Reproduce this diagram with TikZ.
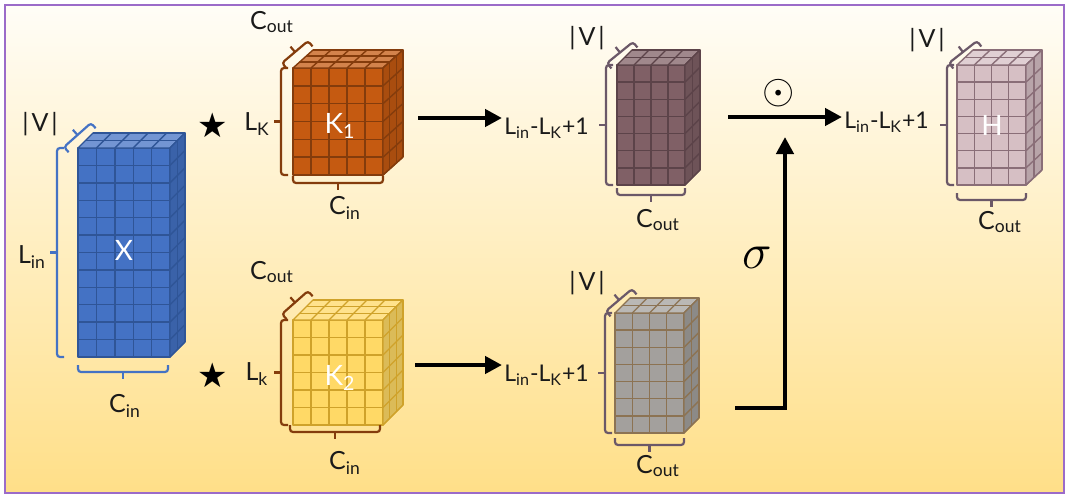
\documentclass[tikz,border=0pt]{standalone}
\usepackage{fontspec}
\setmainfont{Lato}
\newfontfamily\symfont{DejaVu Sans}
\usetikzlibrary{arrows.meta,calc}
\definecolor{bgT}{HTML}{FFFDF7}
\definecolor{bgM}{HTML}{FFF3CD}
\definecolor{bgB}{HTML}{FFDF88}
\definecolor{frameC}{HTML}{9B6BC9}
\definecolor{xF}{HTML}{4472C4}
\definecolor{xL}{HTML}{2F5597}
\definecolor{kaF}{HTML}{C55A11}
\definecolor{kaL}{HTML}{843C0C}
\definecolor{kbF}{HTML}{FFD966}
\definecolor{kbL}{HTML}{CFA22A}
\definecolor{oaF}{HTML}{806066}
\definecolor{oaL}{HTML}{5C4349}
\definecolor{obF}{HTML}{A3A09D}
\definecolor{obL}{HTML}{8C7353}
\definecolor{hF}{HTML}{D6BFC4}
\definecolor{hL}{HTML}{8A6E78}
\definecolor{brkK}{HTML}{843C0C}
\definecolor{brkO}{HTML}{6B5868}
\definecolor{txt}{HTML}{1A1A1A}
\tikzset{
  cubeline/.style={draw=cl, line width=0.7pt, line join=round},
  brk/.style={line width=1.1pt, rounded corners=1.5pt},
  lbl/.style={text=txt, inner sep=1pt},
  sumlbl/.style={text=txt, inner sep=1pt, font=\fontsize{11.5}{13}\selectfont},
  inlbl/.style={text=white, font=\fontsize{14}{16}\selectfont, inner sep=1pt},
  arr/.style={line width=2.3pt, -{Triangle[length=8.5pt,width=8.5pt]}},
  frame/.style={draw=frameC, line width=1.3pt},
  starsym/.style={font=\symfont\fontsize{17}{18}\selectfont, inner sep=0pt}
}
\newcommand\cubecolors[2]{\colorlet{cf}{#1}\colorlet{cl}{#2}}
% x, y, w, h, cols, rows, depth, dx, dy
\newcommand\cuboid[9]{%
\begin{scope}[shift={(#1,#2)}]
 \filldraw[cubeline, fill=cf] (0,0) rectangle (#3,#4);
 \foreach \i in {1,...,#5} {\draw[cubeline] (\i*#3/#5,0) -- (\i*#3/#5,#4);}
 \foreach \j in {1,...,#6} {\draw[cubeline] (0,\j*#4/#6) -- (#3,\j*#4/#6);}
 \filldraw[cubeline, fill=cf!75!white] (0,0) -- (#8,-#9) -- (#3+#8,-#9) -- (#3,0) -- cycle;
 \foreach \k in {1,...,#7} {\draw[cubeline] (\k*#8/#7,-\k*#9/#7) -- (#3+\k*#8/#7,-\k*#9/#7);}
 \foreach \i in {1,...,#5} {\draw[cubeline] (\i*#3/#5,0) -- ++(#8,-#9);}
 \filldraw[cubeline, fill=cf!86!black] (#3,0) -- ++(#8,-#9) -- ++(0,#4) -- (#3,#4) -- cycle;
 \foreach \k in {1,...,#7} {\draw[cubeline] (#3+\k*#8/#7,-\k*#9/#7) -- ++(0,#4);}
 \foreach \j in {1,...,#6} {\draw[cubeline] (#3,\j*#4/#6) -- ++(#8,-#9);}
\end{scope}}
% colour, A, B
\newcommand\brk[3]{%
 \draw[brk,#1] ($#2!3.5pt!90:#3$) -- #2 -- #3 -- ($#3!3.5pt!-90:#2$);
 \draw[brk,#1] ($#2!0.5!#3$) -- ($#2!0.5!#3!3.5pt!-90:#3$);
}
\newcommand\Lk{L\textsubscript{in}-L\textsubscript{K}+1}
\newcommand\Vb{|\kern1.5pt V\kern1.5pt|}
\begin{document}
\begin{tikzpicture}[x=0.5pt,y=-0.5pt, font=\fontsize{12.5}{14}\selectfont]
\useasboundingbox (0,0) rectangle (1073,498);
\shade[top color=bgT, middle color=bgM, bottom color=bgB] (5,5) rectangle (1064,493);
\draw[frame] (5,5) rectangle (1064,493);

% ---------- X ----------
\cubecolors{xF}{xL}
\cuboid{78}{148}{92}{209}{5}{12}{2}{15}{15}
\node[inlbl] (X) at (124,250) {X};
\brk{xF}{(57,148)}{(57,357)}
\brk{xF}{(91,123)}{(64,147)}
\brk{xF}{(78,372)}{(168,372)}
\node[lbl] (Xl) at (32,257) {L\textsubscript{in}};
\node[lbl] (Xv) at (40,124) {\Vb};
\node[lbl] (Xc) at (125,406) {C\textsubscript{in}};

% ---------- stars ----------
\node[starsym] (s1) at (213,125) {★};
\node[starsym] (s2) at (213,375) {★};

% ---------- K1 ----------
\cubecolors{kaF}{kaL}
\cuboid{293}{68}{90}{107}{5}{6}{3}{20}{18}
\node[inlbl] (K1) at (340,126) {K\textsubscript{1}};
\brk{brkK}{(281,68)}{(281,175)}
\brk{brkK}{(308,41)}{(282,63)}
\brk{brkK}{(293,183)}{(383,183)}
\node[lbl] (K1l) at (257,124) {L\textsubscript{K}};
\node[lbl] (K1o) at (272,22) {C\textsubscript{out}};
\node[lbl] (K1c) at (345,208) {C\textsubscript{in}};

% ---------- K2 ----------
\cubecolors{kbF}{kbL}
\cuboid{293}{320}{90}{105}{5}{6}{3}{20}{20}
\node[inlbl] (K2) at (340,378) {K\textsubscript{2}};
\brk{brkK}{(281,320)}{(281,425)}
\brk{brkK}{(308,291)}{(282,314)}
\brk{brkK}{(290,432)}{(380,432)}
\node[lbl] (K2l) at (257,374) {L\textsubscript{k}};
\node[lbl] (K2o) at (272,272) {C\textsubscript{out}};
\node[lbl] (K2c) at (345,463) {C\textsubscript{in}};

% ---------- O1 ----------
\cubecolors{oaF}{oaL}
\cuboid{617}{65}{68}{120}{4}{7}{2}{15}{15}
\coordinate (O1) at (651,125);
\brk{brkO}{(606,65)}{(606,185)}
\brk{brkO}{(633,42)}{(607,63)}
\brk{brkO}{(617,195)}{(685,195)}
\node[sumlbl, anchor=west] (O1l) at (502,128) {\Lk};
\node[lbl] (O1v) at (587,38) {\Vb};
\node[lbl] (O1c) at (658,220) {C\textsubscript{out}};

% ---------- O2 ----------
\cubecolors{obF}{obL}
\cuboid{615}{313}{69}{120}{4}{7}{2}{15}{15}
\coordinate (O2) at (650,373);
\brk{brkO}{(605,313)}{(605,433)}
\brk{brkO}{(632,289)}{(606,311)}
\brk{brkO}{(615,445)}{(684,445)}
\node[sumlbl, anchor=west] (O2l) at (502,375) {\Lk};
\node[lbl] (O2v) at (587,283) {\Vb};
\node[lbl] (O2c) at (658,466) {C\textsubscript{out}};

% ---------- H ----------
\cubecolors{hF}{hL}
\cuboid{957}{65}{69}{120}{4}{7}{2}{16}{15}
\node[inlbl] (H) at (992,125) {H};
\brk{brkO}{(977,41)}{(949,63)}
\brk{brkO}{(947,65)}{(947,185)}
\brk{brkO}{(957,200)}{(1026,200)}
\node[sumlbl, anchor=west] (Hl) at (842,122) {\Lk};
\node[lbl] (Hv) at (927,40) {\Vb};
\node[lbl] (Hc) at (1000,222) {C\textsubscript{out}};

% ---------- arrows ----------
\coordinate (a1) at (418,118);
\coordinate (a2) at (415,365);
\coordinate (a3) at (728,117);
\coordinate (sg0) at (735,408);
\coordinate (sg1) at (785,137);
\draw[arr] (a1) -- (a1 -| O1l.west);
\draw[arr] (a2) -- (a2 -| O2l.west);
\draw[arr] (a3) -- (a3 -| Hl.west);
\draw[line width=2.3pt, -{Triangle[length=8.5pt,width=8.5pt]}] (sg0) -| (sg1);
\node[inner sep=0pt] (odot) at (779,93) {\fontsize{22}{22}\selectfont$\odot$};
\node[inner sep=0pt] (sig) at (757,258) {\fontsize{24}{24}\selectfont$\sigma$};
\end{tikzpicture}
\end{document}
